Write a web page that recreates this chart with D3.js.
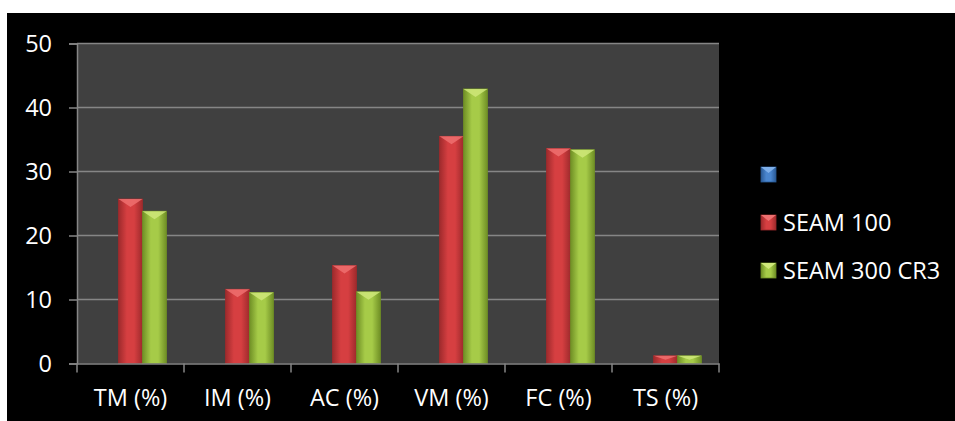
<!DOCTYPE html>
<html>
<head>
<meta charset="utf-8">
<script src="https://cdn.jsdelivr.net/npm/d3@7"></script>
<style>
  body { margin: 0; background: #fff; }
  text { font-family: "Open Sans", sans-serif; }
</style>
</head>
<body>
<svg id="chart" width="955" height="421"></svg>
<script>
var categories = ["TM (%)", "IM (%)", "AC (%)", "VM (%)", "FC (%)", "TS (%)"]
var seriesNames = ["", "SEAM 100", "SEAM 300 CR3"]
var series1 = [null, null, null, null, null, null]   // blue series, no values shown
var seam100 = [25.7, 11.6, 15.3, 35.5, 33.6, 1.2]
var seam300 = [23.8, 11.1, 11.2, 42.9, 33.4, 1.2]
var yTicks = [0, 10, 20, 30, 40, 50]

var fontSize = 23.5

var svg = d3.select("#chart")

// black chart background below a white strip
svg.append("rect")
    .attr("x", 7).attr("y", 13)
    .attr("width", 948).attr("height", 408)
    .attr("fill", "#000")

var margin = {left: 77, top: 43.5, right: 719, bottom: 363.5}

var x = d3.scaleBand()
          .domain(categories)
          .range([margin.left, margin.right])
          .paddingInner(0)
          .paddingOuter(0)

var groupWidth = x.bandwidth() * 72 / 107
var xs = d3.scaleBand()
           .domain([0, 1, 2])
           .range([0, groupWidth])

var y = d3.scaleLinear()
          .domain([0, 50])
          .range([margin.bottom, margin.top])

// plot area
svg.append("rect")
    .attr("x", margin.left).attr("y", margin.top)
    .attr("width", margin.right - margin.left)
    .attr("height", margin.bottom - margin.top)
    .attr("fill", "#404040")

// gridlines + y ticks
svg.append("g")
    .attr("transform", "translate(" + margin.left + ",0)")
    .call(d3.axisLeft(y).tickValues(yTicks).tickSize(8).tickFormat(d3.format("d")))
    .call(function(g) {
        g.attr("font-size", fontSize).attr("font-family", "'Open Sans', sans-serif")
        g.select(".domain").attr("stroke", "#868686").attr("stroke-width", 1.5)
        g.selectAll(".tick line").attr("stroke", "#868686").attr("stroke-width", 1.5)
        g.selectAll(".tick text")
         .attr("fill", "#fff")
         .attr("x", -25)
         .attr("dy", "0.35em")
    })

svg.append("g")
    .selectAll("line")
    .data(yTicks.filter(function(d){ return d > 0 }))
    .enter().append("line")
        .attr("x1", margin.left).attr("x2", margin.right)
        .attr("y1", function(d){ return y(d) })
        .attr("y2", function(d){ return y(d) })
        .attr("stroke", "#868686")
        .attr("stroke-width", 1.5)

// gradients for bar shading
var defs = svg.append("defs")
var palette = [
    {id: "blue", dark: "#2a5a96", mid: "#4a86cf", top: "#7fb0ea"},
    {id: "red", dark: "#9e2a2c", mid: "#d63f41", top: "#ee7070"},
    {id: "green", dark: "#6f8f25", mid: "#a6cb48", top: "#cfe87a"}
]
palette.forEach(function(p) {
    var gr = defs.append("linearGradient").attr("id", "grad-" + p.id)
                 .attr("x1", "0%").attr("x2", "100%").attr("y1", "0%").attr("y2", "0%")
    gr.append("stop").attr("offset", "0%").attr("stop-color", p.dark)
    gr.append("stop").attr("offset", "35%").attr("stop-color", p.mid)
    gr.append("stop").attr("offset", "65%").attr("stop-color", p.mid)
    gr.append("stop").attr("offset", "100%").attr("stop-color", p.dark)
})

var allSeries = [series1, seam100, seam300]
var bars = []
allSeries.forEach(function(s, si) {
    s.forEach(function(v, ci) {
        if (v != null) bars.push({cat: categories[ci], s: si, value: v})
    })
})

function barX(d) {
    return x(d.cat) + (x.bandwidth() - groupWidth) / 2 + xs(d.s)
}

var barG = svg.append("g")
barG.selectAll("rect")
    .data(bars).enter()
    .append("rect")
        .attr("x", barX)
        .attr("y", function(d){ return y(d.value) })
        .attr("width", xs.bandwidth())
        .attr("height", function(d){ return y(0) - y(d.value) })
        .attr("fill", function(d){ return "url(#grad-" + palette[d.s].id + ")" })
        .attr("stroke", function(d){ return palette[d.s].dark })
        .attr("stroke-width", 0.8)

// bevel triangle on top of each bar
barG.selectAll("path")
    .data(bars).enter()
    .append("path")
        .attr("d", function(d) {
            var x0 = barX(d), w = xs.bandwidth(), y0 = y(d.value)
            var h = Math.min(8, (y(0) - y0) / 2)
            return "M" + x0 + "," + y0 + "L" + (x0 + w) + "," + y0 +
                   "L" + (x0 + w / 2) + "," + (y0 + h) + "Z"
        })
        .attr("fill", function(d){ return palette[d.s].top })
        .attr("opacity", 0.85)

// x axis
svg.append("g")
    .attr("transform", "translate(0," + margin.bottom + ")")
    .call(d3.axisBottom(x).tickSize(0).tickFormat(function(d){ return d }))
    .call(function(g) {
        g.attr("font-size", fontSize).attr("font-family", "'Open Sans', sans-serif")
        g.select(".domain").attr("stroke", "#868686").attr("stroke-width", 1.5)
        g.selectAll(".tick text")
         .attr("fill", "#fff")
         .attr("y", 42)
         .attr("dy", 0)
    })

var boundaries = categories.map(function(c){ return x(c) }).concat([margin.right])
svg.append("g")
    .selectAll("line")
    .data(boundaries).enter()
    .append("line")
        .attr("x1", function(d){ return d }).attr("x2", function(d){ return d })
        .attr("y1", margin.bottom).attr("y2", margin.bottom + 9)
        .attr("stroke", "#868686")
        .attr("stroke-width", 1.5)

// legend
var legend = svg.append("g")
legend.selectAll("rect")
    .data(seriesNames).enter()
    .append("rect")
        .attr("x", 761)
        .attr("y", function(d, i){ return 167 + i * 48 })
        .attr("width", 15)
        .attr("height", 15)
        .attr("fill", function(d, i){ return "url(#grad-" + palette[i].id + ")" })
        .attr("stroke", function(d, i){ return palette[i].dark })
        .attr("stroke-width", 0.8)

legend.selectAll("path")
    .data(seriesNames).enter()
    .append("path")
        .attr("d", function(d, i) {
            var y0 = 167 + i * 48
            return "M761," + y0 + "L776," + y0 + "L768.5," + (y0 + 6) + "Z"
        })
        .attr("fill", function(d, i){ return palette[i].top })

legend.selectAll("text")
    .data(seriesNames).enter()
    .append("text")
        .attr("x", 783)
        .attr("y", function(d, i){ return 175 + i * 48 })
        .attr("dy", "0.35em")
        .attr("fill", "#fff")
        .attr("font-size", fontSize)
        .text(function(d){ return d })
</script>
</body>
</html>
